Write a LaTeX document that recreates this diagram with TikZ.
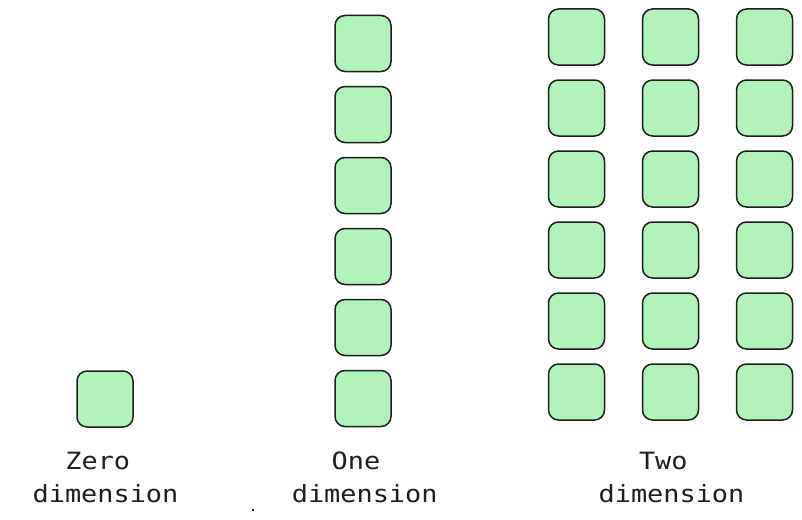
\documentclass[tikz,border=0pt]{standalone}
\usepackage{fontspec}
\newfontfamily\labelfont[FakeStretch=1.13]{DejaVu Sans Mono}
\definecolor{cellfill}{HTML}{B2F2BB}
\definecolor{cellline}{HTML}{1E1E1E}
\definecolor{labeltext}{HTML}{1E1E1E}
\begin{document}
\begin{tikzpicture}[x=1pt,y=-1pt,
  cell/.style={draw=cellline,fill=cellfill,line width=1.5pt,rounded corners=10pt,
    minimum width=56pt,minimum height=56pt,inner sep=0pt},
  lbl/.style={anchor=base,inner sep=0pt,text=labeltext,font=\labelfont\fontsize{23.8}{28}\selectfont}]
\useasboundingbox (0,0) rectangle (802,519);
% zero dimension
\node[cell] (z) at (105,399) {};
% one dimension
\foreach \r in {0,...,5}{
  \node[cell] (o\r) at (363,{43.5+71*\r}) {};
}
% two dimension
\foreach \c/\x in {0/576.5,1/670.5,2/764.5}{
  \foreach \r in {0,...,5}{
    \node[cell] (t\c\r) at (\x,{37+71*\r}) {};
  }
}
% labels
\node[lbl] (zl1) at (97.8,469) {Zero};
\node[lbl] (zl2) at (105.5,502) {dimension};
\node[lbl] (ol1) at (356,469) {One};
\node[lbl] (ol2) at (364.7,502) {dimension};
\node[lbl] (tl1) at (663.3,469) {Two};
\node[lbl] (tl2) at (671.5,502) {dimension};
% stray dot
\fill[labeltext] (252.3,509.3) rectangle (254.3,511.3);
\end{tikzpicture}
\end{document}
